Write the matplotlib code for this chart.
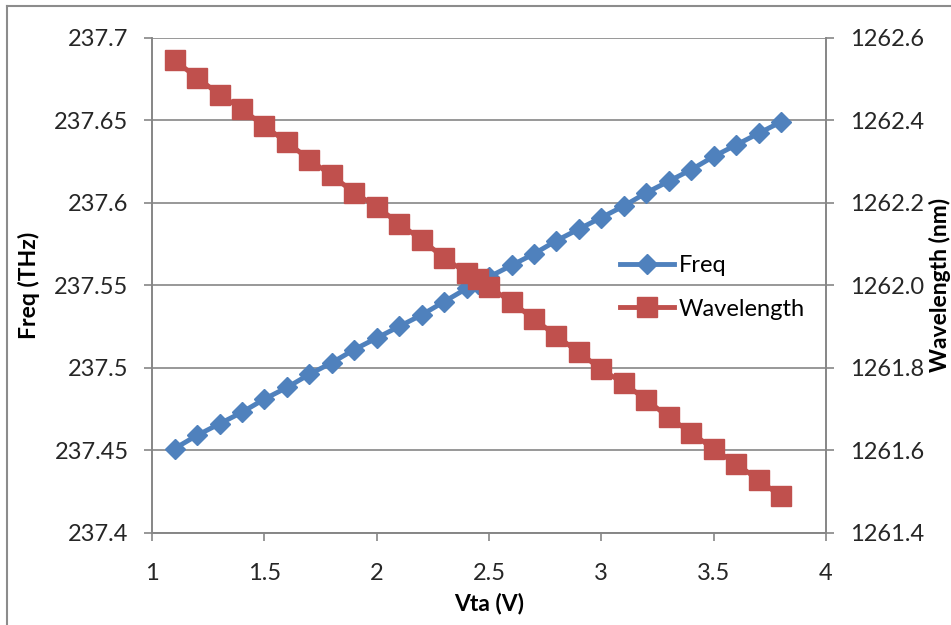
import matplotlib.pyplot as plt
from matplotlib.lines import Line2D
import numpy as np

plt.rcParams['font.family'] = ['Lato', 'DejaVu Sans']

vta = [1.1, 1.2, 1.3, 1.4, 1.5, 1.6, 1.7, 1.8, 1.9, 2.0, 2.1, 2.2, 2.3, 2.4, 2.45,
       2.5, 2.6, 2.7, 2.8, 2.9, 3.0, 3.1, 3.2, 3.3, 3.4, 3.5, 3.6, 3.7, 3.8]
freq = [237.451, 237.459, 237.466, 237.473, 237.481, 237.488, 237.496, 237.503,
        237.511, 237.518, 237.525, 237.532, 237.540, 237.548, 237.551, 237.555,
        237.562, 237.569, 237.577, 237.584, 237.591, 237.598, 237.606, 237.613,
        237.620, 237.628, 237.635, 237.642, 237.649]
wavelength = [1262.545, 1262.503, 1262.462, 1262.427, 1262.385, 1262.347, 1262.304,
              1262.266, 1262.224, 1262.190, 1262.149, 1262.110, 1262.066, 1262.030,
              1262.015, 1261.996, 1261.959, 1261.918, 1261.877, 1261.837, 1261.796,
              1261.762, 1261.722, 1261.680, 1261.642, 1261.603, 1261.567, 1261.528,
              1261.488]

xticks = [1, 1.5, 2, 2.5, 3, 3.5, 4]
yticks_l = [237.4, 237.45, 237.5, 237.55, 237.6, 237.65, 237.7]
yticks_r = [1261.4, 1261.6, 1261.8, 1262.0, 1262.2, 1262.4, 1262.6]

blue = '#4F81BD'
red = '#C0504D'
grey = '#868686'
txt = '#262626'

fig = plt.figure(figsize=(9.51, 6.25), dpi=100)
ax1 = fig.add_axes([0.160, 0.1477, 0.7085, 0.792])
ax2 = ax1.twinx()

l1, = ax1.plot(vta, freq, color=blue, lw=3.5, marker='D', ms=10.5, label='Freq')
l2, = ax2.plot(vta, wavelength, color=red, lw=3.5, marker='s', ms=14, label='Wavelength')

ax1.set_xlim(1, 4)
ax1.set_ylim(237.4, 237.7)
ax2.set_ylim(1261.4, 1262.6)
ax1.set_xticks(xticks)
ax1.set_xticklabels(['1', '1.5', '2', '2.5', '3', '3.5', '4'])
ax1.set_yticks(yticks_l)
ax1.set_yticklabels(['237.4', '237.45', '237.5', '237.55', '237.6', '237.65', '237.7'])
ax2.set_yticks(yticks_r)
ax2.set_yticklabels(['%.1f' % v for v in yticks_r])

ax1.grid(axis='y', color=grey, lw=1.2)
ax1.set_axisbelow(True)
for ax in (ax1, ax2):
    for s in ax.spines.values():
        s.set_color(grey)
        s.set_linewidth(1.2)
    ax.spines['top'].set_visible(False)
    ax.tick_params(length=6, width=1.2, color=grey, labelsize=17, labelcolor=txt, pad=11)
ax1.tick_params(axis='x', pad=16)

ax1.set_ylabel('Freq (THz)', fontsize=16.5, fontweight='bold', labelpad=10)
ax1.set_xlabel('Vta (V)', fontsize=16.5, fontweight='bold', labelpad=6)
fig.text(0.988, 0.544, 'Wavelength (nm)', rotation=90, fontsize=16.5,
         fontweight='bold', ha='center', va='center')

fig.legend(handles=[l1, l2], loc='center left', bbox_to_anchor=(0.652, 0.54),
           frameon=False, fontsize=17, handlelength=2.3, handletextpad=0.2,
           labelspacing=0.95, borderpad=0, borderaxespad=0)

# chart area border
fig.add_artist(Line2D([7 / 951, 1], [1 - 6 / 625, 1 - 6 / 625], color='#8c8c8c', lw=1.5))
fig.add_artist(Line2D([7 / 951, 7 / 951], [0, 1 - 6 / 625], color='#8c8c8c', lw=1.5))

fig.savefig('out.png', dpi=100)
